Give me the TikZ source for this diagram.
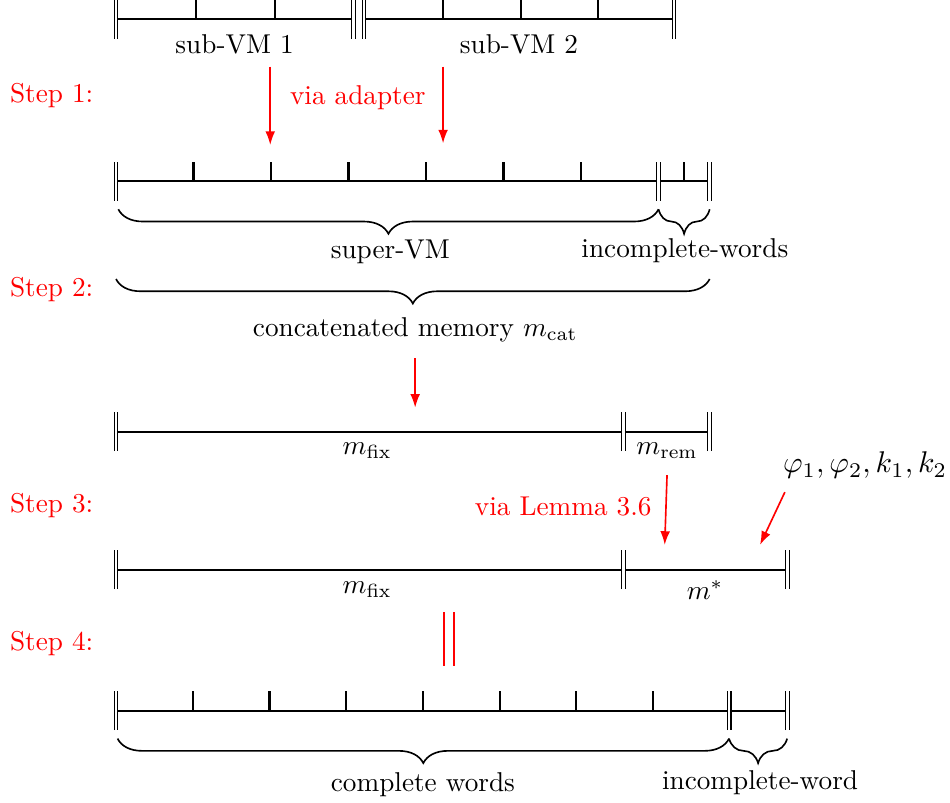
\documentclass[tikz,border=0pt]{standalone}
\usetikzlibrary{decorations.pathreplacing,arrows.meta}
\tikzset{
  memline/.style={thick},
  memtick/.style={thick},
  membar/.style={thin,double,double distance=1pt},
  membrace/.style={semithick,decorate,decoration={brace,mirror,amplitude=9pt}},
  redarrow/.style={red,semithick,-{Latex[length=5pt,width=3.6pt]}},
  steplabel/.style={red}
}
\begin{document}
\begin{tikzpicture}
  \useasboundingbox (-1.497,0) rectangle (10.761,-10.361);
  % draw sub-VM 1
  \draw[memline] (0,-0.25) -- (3.06,-0.25);
  \foreach \x in {1.03,2.05}{\draw[memtick] (\x,-0.25) -- (\x,0);}
  \draw[membar] (0,-0.5) -- (0,0);
  \draw[membar] (3.06,-0.5) -- (3.06,0);
  \node at(1.53,-0.57)(subvmone){sub-VM 1};
  % draw sub-VM 2
  \draw[memline] (3.2,-0.25) -- (7.2,-0.25);
  \foreach \x in {4.22,5.23,6.22}{\draw[memtick] (\x,-0.25) -- (\x,0);}
  \draw[membar] (3.2,-0.5) -- (3.2,0);
  \draw[membar] (7.2,-0.5) -- (7.2,0);
  \node at(5.2,-0.57)(subvmtwo){sub-VM 2};
  % draw step 1 arrows
  \node at(-0.83,-1.23)[steplabel](stepone){Step 1:};
  \coordinate (adaptone) at (1.99,-0.86);
  \coordinate (adaptoneend) at (1.99,-1.87);
  \coordinate (adapttwo) at (4.22,-0.86);
  \coordinate (adapttwoend) at (4.22,-1.85);
  \draw[redarrow] (adaptone) -- (adaptoneend);
  \draw[redarrow] (adapttwo) -- (adapttwoend);
  \node at(3.12,-1.26)[red](adapter){via adapter};
  % draw super-VM
  \draw[memline] (0,-2.34) -- (7.66,-2.34);
  \foreach \x in {1,2,3,4,5,6,7.33}{\draw[memtick] (\x,-2.34) -- (\x,-2.09);}
  \foreach \x in {0,7,7.66}{\draw[membar] (\x,-2.59) -- (\x,-2.09);}
  \draw[membrace] (0.03,-2.7) -- (7,-2.7);
  \draw[membrace] (7,-2.7) -- (7.66,-2.7);
  \node at(3.54,-3.25)(supervm){super-VM};
  \node at(7.34,-3.23)(incwords){incomplete-words};
  % draw step 2 brace
  \node at(-0.83,-3.74)[steplabel](steptwo){Step 2:};
  \draw[membrace] (0,-3.6) -- (7.66,-3.6);
  \node at(3.86,-4.26)(mcat){concatenated memory $m_{\mathrm{cat}}$};
  \coordinate (catstart) at (3.86,-4.62);
  \coordinate (catend) at (3.86,-5.26);
  \draw[redarrow] (catstart) -- (catend);
  % draw m_fix and m_rem
  \draw[memline] (0,-5.57) -- (7.66,-5.57);
  \foreach \x in {0,6.55,7.66}{\draw[membar] (\x,-5.82) -- (\x,-5.32);}
  \node at(3.24,-5.81)(mfix){$m_{\mathrm{fix}}$};
  \node at(7.11,-5.81)(mrem){$m_{\mathrm{rem}}$};
  % draw step 3 arrows
  \node at(-0.83,-6.52)[steplabel](stepthree){Step 3:};
  \coordinate (lemmastart) at (7.11,-6.13);
  \coordinate (lemmaend) at (7.08,-7.03);
  \draw[redarrow] (lemmastart) -- (lemmaend);
  \node at(5.77,-6.54)[red](lemma){via Lemma 3.6};
  \node at(8.47,-6.0)[anchor=west,scale=1.1](params){$\varphi_1, \varphi_2, k_1, k_2$};
  \coordinate (paramstart) at (8.63,-6.35);
  \coordinate (paramend) at (8.31,-7.03);
  \draw[redarrow] (paramstart) -- (paramend);
  % draw m_fix and m*
  \draw[memline] (0,-7.35) -- (8.66,-7.35);
  \foreach \x in {0,6.55,8.66}{\draw[membar] (\x,-7.6) -- (\x,-7.1);}
  \node at(3.24,-7.61)(mfixtwo){$m_{\mathrm{fix}}$};
  \node at(7.6,-7.61)(mstar){$m^*$};
  % draw step 4 equality
  \node at(-0.83,-8.3)[steplabel](stepfour){Step 4:};
  \draw[red,semithick] (4.23,-7.9) -- (4.23,-8.59);
  \draw[red,semithick] (4.36,-7.9) -- (4.36,-8.59);
  % draw final words
  \draw[memline] (0,-9.17) -- (8.66,-9.17);
  \foreach \x in {0.99,1.98,2.97,3.96,4.95,5.94,6.93}{\draw[memtick] (\x,-9.17) -- (\x,-8.92);}
  \foreach \x in {0,7.91,8.66}{\draw[membar] (\x,-9.42) -- (\x,-8.92);}
  \draw[membrace] (0.02,-9.53) -- (7.91,-9.53);
  \draw[membrace] (7.91,-9.53) -- (8.66,-9.53);
  \node at(3.96,-10.13)(complete){complete words};
  \node at(8.31,-10.1)(incword){incomplete-word};
\end{tikzpicture}
\end{document}
